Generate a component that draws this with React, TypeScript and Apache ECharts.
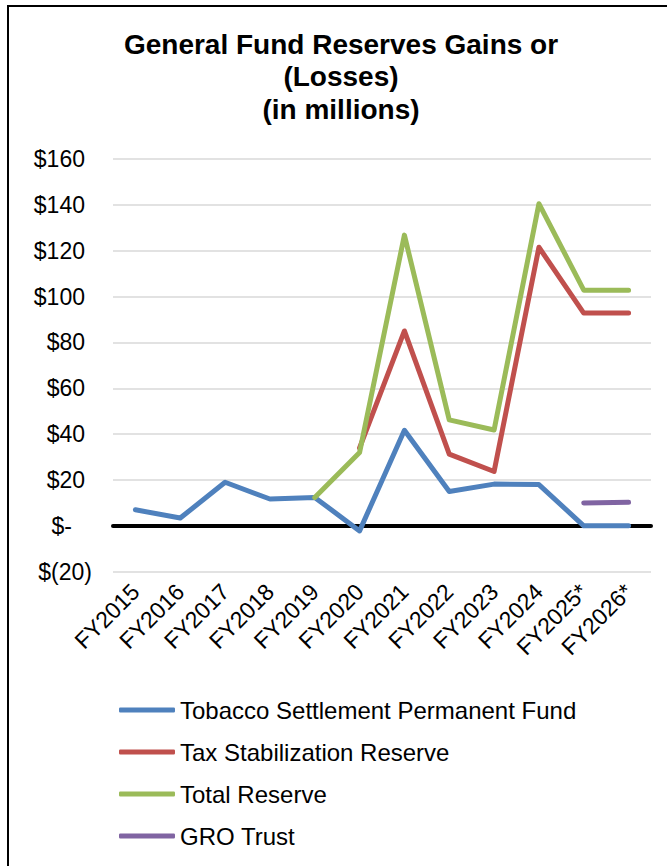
import React, { useEffect, useRef } from "react";
import * as echarts from "echarts";

// Fiscal years shown on the category axis
const categories = [
  "FY2015", "FY2016", "FY2017", "FY2018", "FY2019", "FY2020",
  "FY2021", "FY2022", "FY2023", "FY2024", "FY2025*", "FY2026*",
];

// Gains or (losses), $ millions
const tobaccoFund = [7, 3.4, 19, 11.7, 12.4, -2.2, 41.7, 15, 18.2, 18, 0, 0];
const taxStabilization = [null, null, null, null, null, 34, 85, 31.3, 23.7, 121.5, 92.8, 92.8];
const totalReserve = [null, null, null, null, 12.4, 32, 126.8, 46.2, 41.8, 140.5, 102.8, 102.8];
const groTrust = [null, null, null, null, null, null, null, null, null, null, 10, 10.3];

const yMin = -20;
const yMax = 160;
const yStep = 20;

const FONT = "'Liberation Sans', Arial, sans-serif";

// Accounting-style labels: $160, $-, $(20)
function moneyLabel(v: number): string {
  if (v === 0) return "{z|$-}";
  if (v < 0) return `{n|$(${Math.abs(v)})}`;
  return `{p|$${v}}`;
}

export default function App() {
  const ref = useRef<HTMLDivElement>(null);

  useEffect(() => {
    if (!ref.current) return;
    const chart = echarts.init(ref.current, null, { renderer: "svg" });

    const lineSeries = (name: string, data: (number | null)[], color: string) => ({
      name,
      type: "line",
      data,
      showSymbol: false,
      symbol: "none",
      connectNulls: false,
      itemStyle: { color },
      lineStyle: { color, width: 5, cap: "round", join: "round" },
    });

    chart.setOption({
      animation: false,
      backgroundColor: "#fff",
      textStyle: { fontFamily: FONT },
      graphic: [
        {
          type: "rect",
          shape: { x: 8, y: 6, width: 720, height: 900 },
          style: { fill: "none", stroke: "#000", lineWidth: 2 },
          silent: true,
        },
        {
          type: "text",
          x: 341,
          y: 28,
          style: {
            text: "General Fund Reserves Gains or\n(Losses)\n(in millions)",
            fontFamily: FONT,
            fontSize: 28,
            fontWeight: "bold",
            fill: "#000",
            align: "center",
            verticalAlign: "top",
            lineHeight: 32.5,
          },
        },
      ],
      grid: { left: 113, right: 16, top: 159, bottom: 294.3, containLabel: false },
      xAxis: [
        {
          // labelled category axis along the bottom of the plot
          type: "category",
          data: categories,
          boundaryGap: true,
          axisLine: { show: false, onZero: false },
          axisTick: { show: false },
          axisLabel: {
            rotate: 45,
            margin: 16,
            interval: 0,
            color: "#000",
            fontSize: 23,
            fontFamily: FONT,
          },
        },
        {
          // heavy baseline at zero, under the data lines
          type: "category",
          data: categories,
          position: "bottom",
          boundaryGap: true,
          axisLine: { show: true, onZero: true, lineStyle: { color: "#000", width: 4 } },
          axisTick: { show: false },
          axisLabel: { show: false },
          splitLine: { show: false },
        },
      ],
      yAxis: {
        type: "value",
        min: yMin,
        max: yMax,
        interval: yStep,
        axisLine: { show: false },
        axisTick: { show: false },
        splitLine: { lineStyle: { color: "#d9d9d9", width: 1.5 } },
        axisLabel: {
          margin: 21,
          color: "#000",
          fontSize: 23,
          fontFamily: FONT,
          formatter: (v: number) => moneyLabel(v),
          rich: {
            p: { fontSize: 23, fontFamily: FONT, color: "#000", padding: [0, 7, 0, 0] },
            z: { fontSize: 23, fontFamily: FONT, color: "#000", padding: [0, 20, 0, 0] },
            n: { fontSize: 23, fontFamily: FONT, color: "#000" },
          },
        },
      },
      legend: {
        orient: "vertical",
        left: 119,
        top: 698,
        padding: 0,
        itemWidth: 56,
        itemHeight: 5,
        itemGap: 18,
        icon: "roundRect",
        textStyle: { fontSize: 24, fontFamily: FONT, color: "#000", lineHeight: 24 },
        data: [
          "Tobacco Settlement Permanent Fund",
          "Tax Stabilization Reserve",
          "Total Reserve",
          "GRO Trust",
        ],
      },
      series: [
        lineSeries("Tobacco Settlement Permanent Fund", tobaccoFund, "#4F81BD"),
        lineSeries("Tax Stabilization Reserve", taxStabilization, "#C0504D"),
        lineSeries("Total Reserve", totalReserve, "#9BBB59"),
        lineSeries("GRO Trust", groTrust, "#8064A2"),
      ],
    });

    return () => chart.dispose();
  }, []);

  return (
    <div
      ref={ref}
      style={{ position: "fixed", left: 0, top: 0, width: 667, height: 866 }}
    />
  );
}
